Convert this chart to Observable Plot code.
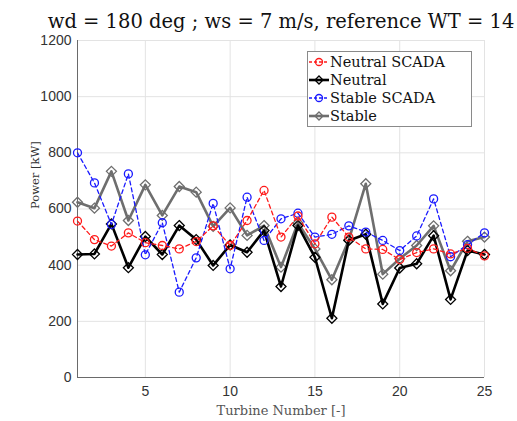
<!DOCTYPE html>
<html><head><meta charset="utf-8">
<script src="https://cdn.jsdelivr.net/npm/d3@7"></script>
<script src="https://cdn.jsdelivr.net/npm/@observablehq/plot@0.6"></script>
<style>
body{margin:0;background:#fff;}
#wrap{position:relative;width:517px;height:421px;}
#legend{position:absolute;left:307px;top:51px;width:165px;height:76px;border:1px solid #8a8a8a;background:#fff;font-family:"DejaVu Serif",serif;font-size:14.5px;color:#111;box-sizing:border-box;padding-top:1px;}
.row{display:flex;align-items:center;height:18px;white-space:nowrap;}
.row svg{margin-left:1px;margin-right:1px;flex:none;}
</style></head>
<body><div id="wrap"><div id="legend"></div></div>
<script>
const turbines = d3.range(1, 26);
const neutralScada = [557,491,468,515,480,470,458,484,540,470,559,666,500,575,476,571,500,458,456,420,445,458,440,460,433];
const neutral      = [438,440,547,391,502,438,541,491,399,472,446,523,324,541,428,211,488,510,262,390,405,505,278,452,438];
const stableScada  = [800,693,545,725,437,551,304,426,620,387,642,488,565,585,500,510,540,518,488,452,504,636,430,473,515];
const stable       = [624,603,734,559,686,577,680,660,538,604,506,541,393,550,458,348,490,690,368,423,470,540,380,485,500];
const xTicks = [5,10,15,20,25];
const yTicks = [0,200,400,600,800,1000,1200];
const titleText = "wd = 180 deg ; ws = 7 m/s, reference WT = 14";

const series = [
  {name:"Neutral SCADA", values:neutralScada, color:"#ff1a1a", dash:"4,3", width:1.3, symbol:"circle"},
  {name:"Neutral", values:neutral, color:"#000000", dash:null, width:2.6, symbol:"diamond2"},
  {name:"Stable SCADA", values:stableScada, color:"#1a1aff", dash:"4,3", width:1.3, symbol:"circle"},
  {name:"Stable", values:stable, color:"#6e6e6e", dash:null, width:2.6, symbol:"diamond2"}
];
const draw = [series[3], series[1], series[2], series[0]];
const marks = [
  Plot.gridX(xTicks, {stroke:"#e3e3e3", strokeOpacity:1}),
  Plot.gridY(yTicks, {stroke:"#e3e3e3", strokeOpacity:1}),
  Plot.ruleX([1], {stroke:"#6a6a6a"}),
  Plot.ruleY([0], {stroke:"#6a6a6a"})
];
for (const s of draw) {
  const data = turbines.map((t,i)=>({t, v:s.values[i]}));
  marks.push(Plot.line(data, {x:"t", y:"v", stroke:s.color, strokeWidth:s.width, strokeDasharray:s.dash}));
  marks.push(Plot.dot(data, {x:"t", y:"v", stroke:s.color, strokeWidth:1.3, r: s.symbol==="circle"?4:4.5, symbol:s.symbol, fill:"none"}));
}
marks.push(Plot.text([titleText], {frameAnchor:"top", dy:-13, fontSize:19.5, fontFamily:"DejaVu Serif, serif", fill:"#111", lineAnchor:"bottom"}));
marks.push(Plot.axisX(xTicks, {tickSize:0, tickPadding:9, fontSize:14, fontFamily:"Liberation Sans, sans-serif", fill:"#333", label:null, tickFormat:d=>String(d)}));
marks.push(Plot.axisY(yTicks, {tickSize:0, tickPadding:6, fontSize:14, fontFamily:"Liberation Sans, sans-serif", fill:"#333", label:null, tickFormat:d=>String(d)}));
marks.push(Plot.text(["Turbine Number [-]"], {frameAnchor:"bottom", dy:33, fontSize:13, fontFamily:"DejaVu Serif, serif", fill:"#555", lineAnchor:"middle"}));
marks.push(Plot.text(["Power [kW]"], {frameAnchor:"left", dx:-42, rotate:-90, fontSize:11.5, fontFamily:"DejaVu Serif, serif", fill:"#333"}));

const chart = Plot.plot({
  width:517, height:421,
  marginLeft:77, marginRight:33, marginTop:40, marginBottom:44,
  x:{domain:[1,25]},
  y:{domain:[0,1200]},
  style:{background:"#fff", overflow:"visible"},
  marks
});
document.getElementById("wrap").prepend(chart);

const leg = document.getElementById("legend");
for (const s of series) {
  const row = document.createElement("div");
  row.className = "row";
  const sym = s.symbol === "circle"
    ? `<circle cx="10" cy="9" r="3.5" fill="none" stroke="${s.color}" stroke-width="1.3"/>`
    : `<path d="M10,5 L14,9 L10,13 L6,9Z" fill="none" stroke="${s.color}" stroke-width="1.3"/>`;
  row.innerHTML = `<svg width="20" height="18"><line x1="0" y1="9" x2="20" y2="9" stroke="${s.color}" stroke-width="${s.width}" ${s.dash?`stroke-dasharray="3,2"`:""}/>${sym}</svg><span>${s.name}</span>`;
  leg.appendChild(row);
}
</script></body></html>
